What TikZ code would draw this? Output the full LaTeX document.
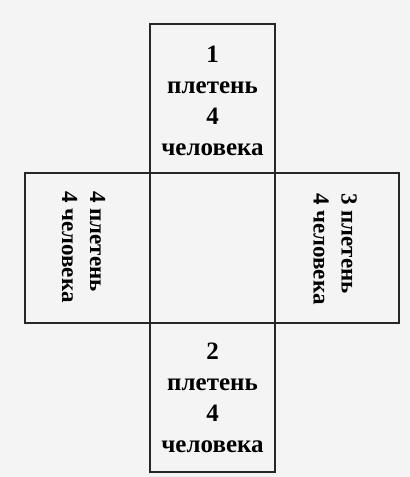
\documentclass[tikz,border=0pt]{standalone}
\usepackage{fontspec}
\setmainfont{Liberation Serif}
\begin{document}
\begin{tikzpicture}[x=1pt,y=-1pt,
  boxline/.style={draw=black!85, line width=1.6pt},
  vtext/.style={align=center, font=\fontsize{25}{31}\selectfont\bfseries},
  stext/.style={align=left, font=\fontsize{23}{28}\selectfont\bfseries, rotate=-90, anchor=west, inner sep=0pt}]
\fill[gray!9] (0,0) rectangle (410,477);
\useasboundingbox (0,0) rectangle (410,477);
\draw[boxline] (25,173) rectangle (399,323);
\draw[boxline] (150,24) rectangle (275,472);
\node[vtext] (top) at (212.5,101) {1\\плетень\\4\\человека};
\node[vtext] (bot) at (212.5,398) {2\\плетень\\4\\человека};
\node[stext] (left) at (83.5,191) {4 плетень\\4 человека};
\node[stext] (right) at (335,193) {3 плетень\\4 человека};
\end{tikzpicture}
\end{document}
